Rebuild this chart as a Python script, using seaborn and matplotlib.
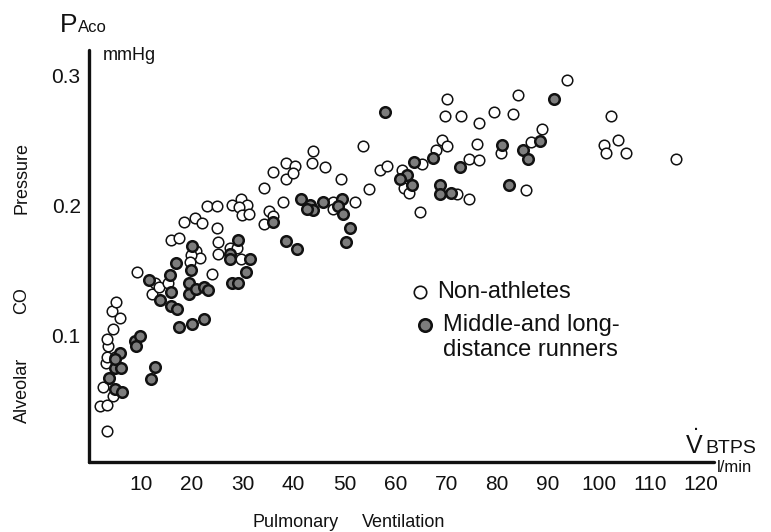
import matplotlib
matplotlib.use("Agg")
import matplotlib.pyplot as plt
import seaborn as sns
import pandas as pd

# Pulmonary ventilation (l/min) and alveolar CO pressure (mmHg)
non_athletes_x = [3.3, 1.9, 3.3, 4.5, 2.6, 3.2, 3.4, 5.0, 3.6, 3.4, 4.5, 5.8, 4.4, 5.2,
                  9.3, 12.2, 12.8, 13.6, 15.4, 15.9, 17.4, 18.5, 20.7, 22.1, 22.9, 24.9,
                  25.0, 27.8, 29.7, 30.8, 29.3, 29.8, 31.2, 20.9, 21.7, 19.8, 19.7, 23.9,
                  25.2, 25.2, 27.5, 28.9, 29.7, 34.1, 35.9, 38.6, 38.6, 37.9, 35.2, 36.0,
                  34.1, 40.3, 39.9, 43.6, 43.8, 46.2, 49.3, 47.7, 47.7, 52.1, 53.6, 54.9,
                  57.0, 58.4, 61.2, 65.3, 61.6, 62.7, 64.8, 68.0, 69.2, 70.1, 70.1, 69.7,
                  72.8, 76.4, 76.1, 74.5, 76.4, 72.2, 74.5, 79.4, 83.2, 84.0, 88.9, 80.7,
                  86.6, 85.6, 93.8, 102.4, 103.8, 101.0, 101.3, 105.4, 115.1]
non_athletes_y = [0.027, 0.046, 0.047, 0.054, 0.061, 0.079, 0.084, 0.084, 0.092, 0.098,
                  0.105, 0.114, 0.119, 0.126, 0.149, 0.132, 0.141, 0.138, 0.141, 0.174,
                  0.175, 0.188, 0.191, 0.187, 0.200, 0.200, 0.183, 0.201, 0.205, 0.201,
                  0.199, 0.193, 0.194, 0.165, 0.160, 0.162, 0.157, 0.148, 0.172, 0.163,
                  0.168, 0.168, 0.159, 0.214, 0.226, 0.233, 0.221, 0.203, 0.196, 0.192,
                  0.186, 0.231, 0.225, 0.233, 0.242, 0.230, 0.221, 0.203, 0.198, 0.203,
                  0.246, 0.213, 0.228, 0.231, 0.228, 0.232, 0.214, 0.210, 0.195, 0.243,
                  0.251, 0.246, 0.282, 0.269, 0.269, 0.264, 0.248, 0.236, 0.235, 0.209,
                  0.205, 0.272, 0.271, 0.285, 0.259, 0.241, 0.249, 0.212, 0.297, 0.269,
                  0.251, 0.247, 0.241, 0.241, 0.236]

runners_x = [3.7, 4.9, 6.0, 5.0, 6.2, 5.8, 5.0, 8.9, 9.9, 9.1, 12.7, 11.9, 11.5, 13.7,
             16.8, 15.8, 16.0, 16.0, 17.1, 17.5, 20.1, 22.4, 20.1, 19.9, 19.5, 19.4,
             20.8, 22.3, 23.2, 29.0, 27.5, 27.5, 31.4, 30.6, 27.8, 29.1, 36.0, 38.6,
             40.6, 41.4, 43.2, 43.9, 42.7, 45.8, 49.5, 48.8, 49.7, 51.1, 50.2, 58.0,
             63.7, 67.3, 72.7, 62.2, 61.0, 63.2, 68.8, 68.8, 70.9, 91.2, 81.0, 85.0,
             86.1, 88.4, 82.3]
runners_y = [0.068, 0.075, 0.075, 0.059, 0.057, 0.087, 0.082, 0.096, 0.100, 0.092,
             0.076, 0.067, 0.143, 0.128, 0.156, 0.147, 0.134, 0.123, 0.121, 0.107,
             0.109, 0.113, 0.169, 0.151, 0.141, 0.132, 0.136, 0.138, 0.135, 0.174,
             0.163, 0.159, 0.159, 0.149, 0.141, 0.141, 0.188, 0.173, 0.167, 0.205,
             0.201, 0.197, 0.198, 0.203, 0.205, 0.200, 0.194, 0.183, 0.172, 0.272,
             0.234, 0.237, 0.230, 0.224, 0.221, 0.216, 0.216, 0.209, 0.210, 0.282,
             0.247, 0.243, 0.236, 0.250, 0.216]

x_ticks = [10, 20, 30, 40, 50, 60, 70, 80, 90, 100, 110, 120]
x_tick_labels = ["10", "20", "30", "40", "50", "60", "70", "80", "90", "100", "110", "120"]
y_ticks = [0.1, 0.2, 0.3]
y_tick_labels = ["0.1", "0.2", "0.3"]

sns.set_style("white")
plt.rcParams["font.family"] = ["Liberation Sans", "DejaVu Sans"]

W, H = 771, 532
INK = "#111111"
fig = plt.figure(figsize=(W / 100, H / 100), dpi=100)
fig.patch.set_facecolor("white")

def fx(px):
    return px / W

def fy(py):
    return 1 - py / H

ax = fig.add_axes([fx(89), fy(462), fx(714) - fx(89), fy(50) - fy(462)])
ax.set_facecolor("white")

df_open = pd.DataFrame({"vent": non_athletes_x, "pco": non_athletes_y})
df_fill = pd.DataFrame({"vent": runners_x, "pco": runners_y})

sns.scatterplot(data=df_open, x="vent", y="pco", ax=ax, s=58, marker="o",
                facecolor="white", edgecolor=INK, linewidth=1.1, zorder=3)
sns.scatterplot(data=df_fill, x="vent", y="pco", ax=ax, s=58, marker="o",
                facecolor="#7d7d7d", edgecolor=INK, linewidth=1.8, zorder=4)

ax.set_xlim(-0.2, 122.6)
ax.set_ylim(0.003, 0.32)
ax.set_xticks(x_ticks)
ax.set_xticklabels(x_tick_labels)
ax.set_yticks(y_ticks)
ax.set_yticklabels(y_tick_labels)
ax.set_xlabel("")
ax.set_ylabel("")

for side in ("top", "right"):
    ax.spines[side].set_visible(False)
for side in ("left", "bottom"):
    ax.spines[side].set_visible(True)
    ax.spines[side].set_color(INK)
    ax.spines[side].set_linewidth(2.4)
    ax.spines[side].set_capstyle("round")

ax.tick_params(axis="both", direction="in", length=6, width=1.6, color=INK,
               labelsize=15, labelcolor=INK)
ax.tick_params(axis="x", pad=9)
ax.tick_params(axis="y", pad=6)

# Axis annotations
fig.text(fx(60), fy(32), "P", fontsize=19, color=INK, ha="left", va="baseline")
fig.text(fx(78), fy(32), "Aco", fontsize=12, color=INK, ha="left", va="baseline")
fig.text(fx(103), fy(60), "mmHg", fontsize=13, color=INK, ha="left", va="baseline")

fig.text(fx(22), fy(178), "Pressure", fontsize=13, rotation=90, color=INK,
         ha="center", va="center")
fig.text(fx(22), fy(301), "CO", fontsize=13, rotation=90, color=INK,
         ha="center", va="center")
fig.text(fx(22), fy(390), "Alveolar", fontsize=13, rotation=90, color=INK,
         ha="center", va="center")

fig.text(fx(686), fy(453), "V", fontsize=18, color=INK, ha="left", va="baseline")
fig.text(fx(693), fy(430), ".", fontsize=16, color=INK, ha="left", va="baseline")
fig.text(fx(705), fy(453), "BTPS", fontsize=14, color=INK, ha="left", va="baseline")
fig.text(fx(717), fy(472), "l/min", fontsize=12, color=INK, ha="left", va="baseline")

fig.text(fx(253), fy(527), "Pulmonary", fontsize=13, color=INK, ha="left", va="baseline")
fig.text(fx(362), fy(527), "Ventilation", fontsize=13, color=INK, ha="left", va="baseline")

# Legend
ax.scatter([0.53], [0.413], s=80, marker="o", facecolor="white", edgecolor=INK,
           linewidth=1.2, transform=ax.transAxes, clip_on=False, zorder=5)
ax.scatter([0.538], [0.333], s=80, marker="o", facecolor="#7d7d7d", edgecolor=INK,
           linewidth=1.9, transform=ax.transAxes, clip_on=False, zorder=5)
fig.text(fx(437), fy(292), "Non-athletes", fontsize=17, color=INK,
         ha="left", va="center")
fig.text(fx(443), fy(325), "Middle-and long-", fontsize=17, color=INK,
         ha="left", va="center")
fig.text(fx(443), fy(350), "distance runners", fontsize=17, color=INK,
         ha="left", va="center")

fig.savefig("out.png", dpi=100, facecolor="white")
